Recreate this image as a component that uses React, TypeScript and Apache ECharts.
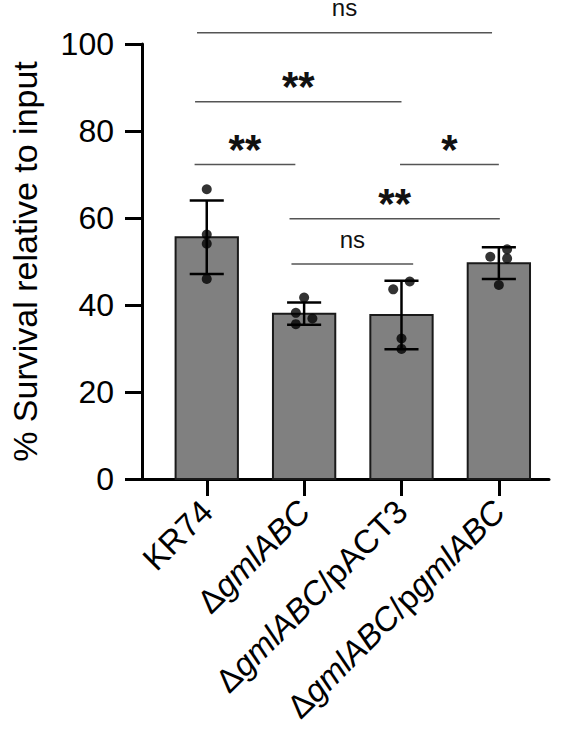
import React, { useEffect, useRef } from "react";
import * as echarts from "echarts";

const categories = ["KR74", "ΔgmlABC", "ΔgmlABC/pACT3", "ΔgmlABC/pgmlABC"];
const means = [55.6, 38.0, 37.7, 49.6];
const sds = [8.45, 2.55, 7.85, 3.65];
const replicates = [
  [66.6, 56.2, 54.1, 46.0],
  [41.7, 38.2, 36.9, 35.6],
  [45.4, 43.6, 32.3, 29.9],
  [52.8, 50.7, 51.1, 44.6],
];
const jitter = [
  [0, 0, 0, 0],
  [0, -0.085, 0.085, -0.085],
  [0.085, -0.085, 0, 0],
  [0.085, 0.085, -0.088, 0],
];
const yTicks = [0, 20, 40, 60, 80, 100];
// significance brackets
const bracketStart = [-0.1, -0.12, -0.125, 1.985, 0.85, 0.87];
const bracketEnd = [2.93, 2.0, 0.91, 3.0, 3.01, 2.12];
const bracketLevel = [102.6, 86.7, 72.3, 72.3, 59.8, 49.4];
const bracketLabel = ["ns", "**", "**", "*", "**", "ns"];

const FONT = "Liberation Sans, Arial, Helvetica, sans-serif";
const BAR_HALF = 0.32;
const CAP_HALF = 0.175;
const STAR_SIZE = 42;

export default function App() {
  const ref = useRef<HTMLDivElement>(null);
  useEffect(() => {
    if (!ref.current) return;
    const chart = echarts.init(ref.current, undefined, { renderer: "svg" });
    const catIdx = categories.map((_, i) => i);
    const barData = means.map((m, i) => [i, m]);
    const errData = means.map((m, i) => [i, m - sds[i], m + sds[i]]);
    const dotData: number[][] = [];
    replicates.forEach((vals, i) =>
      vals.forEach((v, j) => dotData.push([i + jitter[i][j], v]))
    );
    const bracketData = bracketStart.map((s, i) => [s, bracketEnd[i], bracketLevel[i]]);

    chart.setOption({
      animation: false,
      grid: { left: 131, right: 15, top: 44, bottom: 253 },
      xAxis: {
        type: "value",
        min: -0.665,
        max: 3.515,
        axisLine: { show: true, onZero: false, lineStyle: { color: "#000", width: 3 } },
        axisTick: { show: true, customValues: catIdx, length: 17, lineStyle: { color: "#000", width: 3 } },
        axisLabel: {
          customValues: catIdx,
          rotate: 45,
          margin: 27,
          fontSize: 33,
          color: "#000",
          fontFamily: FONT,
          formatter: (v: number) => {
            const name = categories[Math.round(v)] || "";
            return name.replace(/gmlABC/g, "{i|gmlABC}");
          },
          rich: {
            i: { fontStyle: "italic", fontSize: 33, color: "#000", fontFamily: FONT },
          },
        },
        splitLine: { show: false },
      },
      yAxis: {
        type: "value",
        min: yTicks[0],
        max: yTicks[yTicks.length - 1],
        interval: 20,
        axisLine: { show: true, onZero: false, lineStyle: { color: "#000", width: 3 } },
        axisTick: { show: true, length: 17, lineStyle: { color: "#000", width: 3 } },
        axisLabel: { margin: 28, fontSize: 32, color: "#000", fontFamily: FONT },
        splitLine: { show: false },
        name: "% Survival relative to input",
        nameLocation: "middle",
        nameGap: 100,
        nameTextStyle: { fontSize: 34, color: "#000", fontFamily: FONT },
      },
      series: [
        {
          type: "custom",
          data: barData,
          z: 2,
          renderItem: (params: any, api: any) => {
            const x = api.value(0);
            const v = api.value(1);
            const tl = api.coord([x - BAR_HALF, v]);
            const br = api.coord([x + BAR_HALF, 0]);
            return {
              type: "rect",
              shape: { x: tl[0], y: tl[1], width: br[0] - tl[0], height: br[1] - tl[1] },
              style: { fill: "#808080", stroke: "#1a1a1a", lineWidth: 2 },
            };
          },
        },
        {
          type: "custom",
          data: errData,
          z: 3,
          renderItem: (params: any, api: any) => {
            const x = api.value(0);
            const lo = api.coord([x, api.value(1)]);
            const hi = api.coord([x, api.value(2)]);
            const l = api.coord([x - CAP_HALF, api.value(1)]);
            const r = api.coord([x + CAP_HALF, api.value(1)]);
            const st = { stroke: "#000", lineWidth: 2.5 };
            return {
              type: "group",
              children: [
                { type: "line", shape: { x1: lo[0], y1: lo[1], x2: hi[0], y2: hi[1] }, style: st },
                { type: "line", shape: { x1: l[0], y1: lo[1], x2: r[0], y2: lo[1] }, style: st },
                { type: "line", shape: { x1: l[0], y1: hi[1], x2: r[0], y2: hi[1] }, style: st },
              ],
            };
          },
        },
        {
          type: "scatter",
          data: dotData,
          z: 4,
          symbol: "circle",
          symbolSize: 10,
          itemStyle: { color: "#000" },
        },
        {
          type: "custom",
          data: bracketData,
          z: 5,
          clip: false,
          renderItem: (params: any, api: any) => {
            const s = api.coord([api.value(0), api.value(2)]);
            const e = api.coord([api.value(1), api.value(2)]);
            const label = bracketLabel[params.dataIndex];
            const star = label !== "ns";
            return {
              type: "group",
              children: [
                { type: "line", shape: { x1: s[0], y1: s[1], x2: e[0], y2: e[1] }, style: { stroke: "#555", lineWidth: 1.5 } },
                {
                  type: "text",
                  x: (s[0] + e[0]) / 2,
                  y: s[1] - (star ? 23.5 - 0.2 * STAR_SIZE : 25),
                  style: {
                    text: label,
                    align: "center",
                    verticalAlign: "middle",
                    fontSize: star ? STAR_SIZE : 24,
                    fontWeight: star ? "bold" : "normal",
                    fontFamily: FONT,
                    fill: "#111",
                  },
                },
              ],
            };
          },
        },
      ],
    });
    return () => chart.dispose();
  }, []);
  return (
    <div
      ref={ref}
      style={{ position: "fixed", left: 0, top: 0, width: 564, height: 732, background: "#fff" }}
    />
  );
}
